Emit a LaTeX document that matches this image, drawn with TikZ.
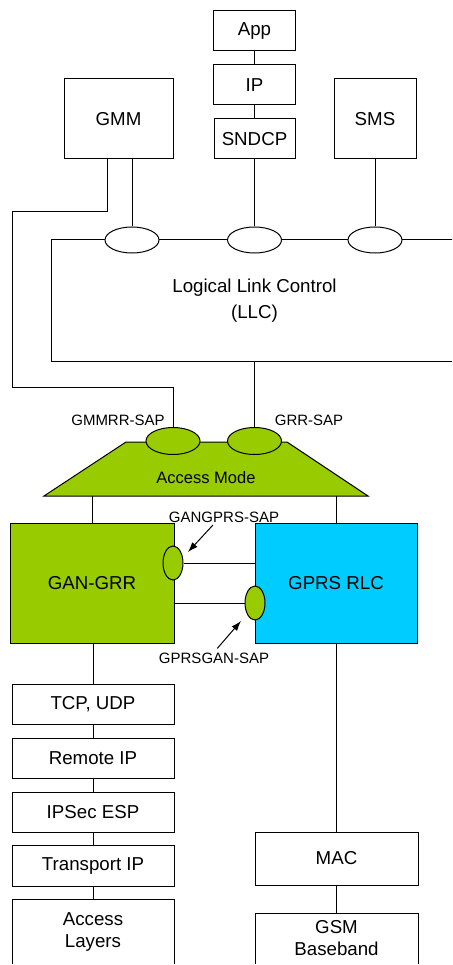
\documentclass[tikz,border=0pt]{standalone}
\usepackage{fontspec}
\setmainfont{Liberation Sans}
\usetikzlibrary{arrows.meta,shapes.geometric}
\tikzset{>={Latex[length=10pt,width=7pt]}}
\definecolor{gangreen}{HTML}{99CC00}
\definecolor{rlcblue}{HTML}{00CCFF}
\tikzset{
  layer/.style={draw,line width=1pt,fill=white,inner sep=0pt,align=center,font=\fontsize{18.7}{22}\selectfont},
  sap/.style={draw,ellipse,line width=1pt,fill=white,inner sep=0pt,minimum width=54pt,minimum height=26pt},
  gsap/.style={draw,ellipse,line width=1pt,fill=gangreen,inner sep=0pt,minimum width=20pt,minimum height=34pt},
  saplabel/.style={inner sep=0pt,font=\fontsize{15}{18}\selectfont},
}

\begin{document}
\begin{tikzpicture}[x=1pt,y=-1pt,line width=1pt]
  \useasboundingbox (0,0) rectangle (452,965);
  \clip (0,0) rectangle (452,963.4);
  % upper stack
  \node[layer,minimum width=82pt,minimum height=40pt] (app) at (254.5,31) {App};
  \node[layer,minimum width=82pt,minimum height=40pt] (ip) at (254.5,85) {IP};
  \node[layer,minimum width=81pt,minimum height=40pt] (sndcp) at (254.5,139) {SNDCP};
  \node[layer,minimum width=109pt,minimum height=80pt] (gmm) at (118.5,119) {GMM};
  \node[layer,minimum width=82pt,minimum height=80pt] (sms) at (375,119) {SMS};
  \draw (app) -- (ip);
  \draw (ip) -- (sndcp);
  \node[layer,minimum width=407pt,minimum height=121pt,font=\fontsize{18.7}{26}\selectfont] (llc) at (254.5,300.5) {Logical Link Control\\(LLC)};
  \node[sap] (gmmsap) at (132,240) {};
  \node[sap] (sndcpsap) at (254.5,240) {};
  \node[sap] (smssap) at (375,240) {};
  \draw (gmmsap.north |- gmm.south) -- (gmmsap.north);
  \draw (sndcp.south) -- (sndcpsap.north);
  \draw (sms.south) -- (smssap.north);
  % access mode
  \draw[fill=gangreen] (126,442) -- (287,442) -- (368,496) -- (44,496) -- cycle;
  \coordinate (mbot) at (206,496);
  \node[font=\fontsize{16.5}{20}\selectfont,inner sep=0pt] (mode) at (206,478) {Access Mode};
  \node[sap,fill=gangreen,minimum height=27pt] (gmmrr) at (173,441) {};
  \node[sap,fill=gangreen,minimum height=27pt] (grr) at (254.5,441) {};
  \node[saplabel] (gmmrrlab) at (118,420) {GMMRR-SAP};
  \node[saplabel] (grrlab) at (309,420) {GRR-SAP};
  \draw ([xshift=-11.5pt]gmm.south) |- (12,212) |- (173,387) -- (gmmrr.north);
  \draw (grr.north |- llc.south) -- (grr.north);
  % GAN-GRR and GPRS RLC
  \node[layer,fill=gangreen,minimum width=164pt,minimum height=120pt] (gangrr) at (92,583) {GAN-GRR};
  \node[layer,fill=rlcblue,minimum width=162pt,minimum height=120pt] (gprs) at (336,583) {GPRS RLC};
  \draw (gangrr.north) -- (gangrr.north |- mbot);
  \draw (gprs.north) -- (gprs.north |- mbot);
  \node[gsap] (ggsap) at (173,563) {};
  \node[gsap] (pgsap) at (255,603) {};
  \draw (ggsap.east) -- (ggsap.east -| gprs.west);
  \draw (pgsap.west -| gangrr.east) -- (pgsap.west);
  \node[saplabel] (gglab) at (224,517) {GANGPRS-SAP};
  \node[saplabel] (pglab) at (214,658) {GPRSGAN-SAP};
  \coordinate (ggtip) at (188,552);
  \coordinate (pgtip) at (241,621);
  \draw[->,shorten <=3pt] ([xshift=-9pt]gglab.south) -- (ggtip);
  \draw[->,shorten <=5pt] (pglab.north) -- (pgtip);
  % lower stacks
  \node[layer,minimum width=162pt,minimum height=40pt] (tcp) at (93,704) {TCP, UDP};
  \node[layer,minimum width=162pt,minimum height=40pt] (rip) at (93,758) {Remote IP};
  \node[layer,minimum width=162pt,minimum height=40pt] (esp) at (93,812) {IPSec ESP};
  \node[layer,minimum width=162pt,minimum height=41pt] (tip) at (93,865.5) {Transport IP};
  \node[layer,minimum width=162pt,minimum height=65pt] (acc) at (93,931.5) {Access\\Layers};
  \node[layer,minimum width=163pt,minimum height=53pt] (mac) at (336.5,858.5) {MAC};
  \node[layer,minimum width=163pt,minimum height=51pt] (gsm) at (336.5,938.5) {GSM\\Baseband};
  \draw (tcp.north |- gangrr.south) -- (tcp.north);
  \draw (tcp) -- (rip);
  \draw (rip) -- (esp);
  \draw (esp) -- (tip);
  \draw (tip) -- (acc);
  \draw (mac.north |- gprs.south) -- (mac.north);
  \draw (mac) -- (gsm);
\end{tikzpicture}
\end{document}
